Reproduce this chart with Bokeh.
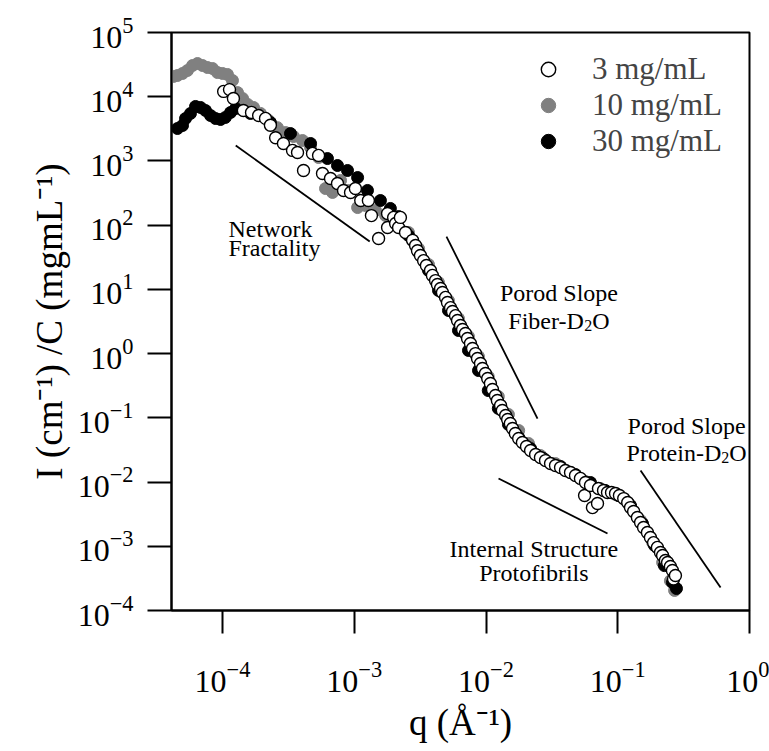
import numpy as np
from bokeh.plotting import figure
from bokeh.models import Range1d, FixedTicker, Label, Legend, LegendItem, LogTickFormatter
from bokeh.embed import file_html
from bokeh.resources import INLINE

# ---------------- data ----------------
# 3 mg/mL (open circles)
q_3 = [1.02e-4, 1.13e-4, 1.21e-4, 1.44e-4, 1.66e-4, 1.88e-4, 2.12e-4, 2.31e-4, 2.53e-4, 2.90e-4,
       3.40e-4, 3.71e-4, 4.12e-4, 4.82e-4, 5.36e-4, 5.74e-4, 6.60e-4, 7.46e-4, 8.29e-4, 9.37e-4,
       1.02e-3, 1.12e-3, 1.28e-3, 1.35e-3, 1.53e-3, 1.79e-3, 1.79e-3, 1.99e-3, 2.06e-3, 2.17e-3,
       2.24e-3, 2.45e-3, 2.77e-3, 2.92e-3, 3.02e-3, 3.18e-3, 3.36e-3, 3.53e-3, 3.79e-3, 3.92e-3,
       4.14e-3, 4.28e-3, 4.52e-3, 4.67e-3, 4.93e-3, 5.10e-3, 5.38e-3, 5.57e-3, 5.87e-3, 6.08e-3,
       6.40e-3, 6.64e-3, 6.98e-3, 7.24e-3, 7.62e-3, 7.90e-3, 8.32e-3, 8.62e-3, 9.08e-3, 9.40e-3,
       9.90e-3, 1.03e-2, 1.08e-2, 1.12e-2, 1.18e-2, 1.22e-2, 1.29e-2, 1.33e-2, 1.41e-2, 1.46e-2,
       1.53e-2, 1.59e-2, 1.67e-2, 1.77e-2, 1.89e-2, 2.03e-2, 2.18e-2, 2.38e-2, 2.59e-2, 2.83e-2,
       3.09e-2, 3.37e-2, 3.68e-2, 4.01e-2, 4.38e-2, 4.78e-2, 5.21e-2, 5.60e-2, 5.69e-2, 6.21e-2,
       6.43e-2, 7.02e-2, 7.14e-2, 7.80e-2, 8.36e-2, 8.97e-2, 9.62e-2, 0.103, 0.111, 0.119,
       0.125, 0.132, 0.141, 0.149, 0.157, 0.168, 0.177, 0.187, 0.200, 0.211,
       0.219, 0.230, 0.239, 0.251, 0.260, 0.265, 0.274]
I_3 = [1.21e4, 1.29e4, 9.4e3, 6.1e3, 5.7e3, 5.1e3, 4.6e3, 3.6e3, 2.3e3, 1.87e3,
       1.46e3, 1.35e3, 710, 1.31e3, 1.22e3, 637, 533, 446, 347, 323,
       372, 242, 242, 141, 62, 92, 152, 132, 106, 92,
       132, 77, 58, 48.2, 40, 33.7, 28, 23.6, 19.7, 16.5,
       13.7, 11.9, 10.3, 8.93, 7.5, 6.25, 5.2, 4.53, 3.9, 3.27,
       2.74, 2.37, 2.06, 1.72, 1.44, 1.20, 1.00, 0.839, 0.70, 0.586,
       0.49, 0.409, 0.342, 0.276, 0.223, 0.186, 0.156, 0.130, 0.109, 0.0942,
       0.0816, 0.0682, 0.057, 0.0477, 0.0413, 0.0357, 0.031, 0.0268, 0.0241, 0.0216,
       0.0194, 0.0181, 0.0168, 0.0151, 0.0141, 0.01265, 0.0114, 0.00617, 0.00984, 0.00883,
       0.0040, 0.00463, 0.00792, 0.00738, 0.00687, 0.00687, 0.00662, 0.00617, 0.00553, 0.0048,
       0.0040, 0.00348, 0.0028, 0.00234, 0.00196, 0.00164, 0.00137, 0.00114, 9.6e-4, 8.0e-4,
       7.2e-4, 6.0e-4, 5.6e-4, 4.84e-4, 4.2e-4, 3.1e-4, 3.5e-4]

# 10 mg/mL (grey filled)
q_10 = [4.25e-5, 4.55e-5, 4.97e-5, 5.42e-5, 5.92e-5, 6.46e-5, 7.05e-5, 7.69e-5, 8.40e-5, 9.16e-5,
        1.00e-4, 1.09e-4, 1.19e-4, 1.30e-4, 1.42e-4, 1.55e-4, 1.72e-4, 1.94e-4, 2.23e-4, 2.61e-4,
        3.01e-4, 3.46e-4, 4.05e-4, 4.66e-4, 5.36e-4, 6.05e-4, 6.84e-4, 7.87e-4, 9.04e-4, 1.06e-3,
        1.22e-3, 1.45e-3, 1.73e-3, 2.06e-3, 2.58e-3, 3.08e-3, 3.66e-3, 4.36e-3, 5.19e-3, 6.18e-3,
        7.36e-3, 8.77e-3, 1.04e-2, 1.24e-2, 1.48e-2, 1.77e-2, 2.10e-2, 2.59e-2, 3.37e-2, 4.38e-2,
        5.69e-2, 7.39e-2, 9.62e-2, 0.121, 0.149, 0.184, 0.219, 0.251, 0.270]
I_10 = [2.07e4, 2.14e4, 2.30e4, 2.56e4, 3.06e4, 3.29e4, 3.06e4, 2.85e4, 2.75e4, 2.38e4,
        2.30e4, 2.22e4, 1.79e4, 1.16e4, 9.4e3, 7.6e3, 6.8e3, 5.5e3, 4.3e3, 3.3e3,
        2.77e3, 2.40e3, 2.08e3, 1.62e3, 1.13e3, 372, 323, 497, 347, 188,
        202, 169, 141, 110, 77, 43, 24.4, 12.8, 6.7, 3.52,
        1.85, 0.90, 0.44, 0.215, 0.113, 0.0635, 0.040, 0.0259, 0.0194, 0.0141,
        0.0102, 0.00792, 0.0064, 0.00463, 0.00252, 0.00114, 5.6e-4, 2.9e-4, 2.05e-4]

# 30 mg/mL (black filled)
q_30 = [4.55e-5, 4.97e-5, 5.24e-5, 5.71e-5, 6.24e-5, 6.81e-5, 7.43e-5, 8.11e-5, 8.85e-5, 9.66e-5,
        1.05e-4, 1.15e-4, 1.26e-4, 1.63e-4, 2.31e-4, 3.28e-4, 4.66e-4, 6.26e-4, 7.46e-4, 8.89e-4,
        1.06e-3, 1.26e-3, 1.58e-3, 1.88e-3, 2.17e-3, 2.58e-3, 3.08e-3, 3.66e-3, 4.36e-3, 5.19e-3,
        6.18e-3, 7.36e-3, 8.77e-3, 1.04e-2, 1.24e-2, 1.48e-2, 1.77e-2, 2.18e-2, 2.73e-2, 3.68e-2,
        4.78e-2, 6.21e-2, 8.07e-2, 0.101, 0.125, 0.154, 0.190, 0.226, 0.260, 0.279]
I_30 = [3.20e3, 3.56e3, 4.58e3, 5.48e3, 7.05e3, 6.80e3, 6.10e3, 5.10e3, 4.58e3, 4.42e3,
        4.75e3, 5.68e3, 6.56e3, 5.48e3, 3.97e3, 2.67e3, 1.87e3, 1.09e3, 849, 710,
        552, 347, 242, 182, 136, 69, 37.5, 19.7, 9.6, 4.69,
        2.29, 1.12, 0.545, 0.266, 0.140, 0.0787, 0.0494, 0.0333, 0.0233, 0.0175,
        0.0131, 0.00984, 0.00738, 0.00617, 0.00431, 0.00226, 0.00103, 5.0e-4, 2.73e-4, 2.2e-4]

series_labels = ["3 mg/mL", "10 mg/mL", "30 mg/mL"]

# guide lines (slope indicators), end points in data units
net_q, net_I = [1.26e-4, 1.31e-3], [1.74e3, 55.7]
fib_q, fib_I = [5.01e-3, 2.46e-2], [66.5, 0.0975]
int_q, int_I = [1.245e-2, 8.36e-2], [0.01135, 1.58e-3]
pro_q, pro_I = [0.149, 0.603], [0.0151, 2.28e-4]

# ticks
x_tick_exps = [-4, -3, -2, -1, 0]
y_tick_exps = [-4, -3, -2, -1, 0, 1, 2, 3, 4, 5]

x_title = "q (Å\u207b\u00b9)"
y_title = "I (cm\u207b\u00b9) /C (mgmL\u207b\u00b9)"

X_LO, X_HI = 4.1e-5, 1.0
Y_LO, Y_HI = 1e-4, 1e5

FONT = "Liberation Serif"

p = figure(width=769, height=751, x_axis_type="log", y_axis_type="log",
           x_range=Range1d(X_LO, X_HI), y_range=Range1d(Y_LO, Y_HI),
           output_backend="svg", toolbar_location=None,
           min_border_left=171, min_border_right=20, min_border_top=32, min_border_bottom=141)
p.background_fill_color = "white"
p.border_fill_color = "white"
p.outline_line_color = "black"
p.outline_line_width = 2
p.grid.visible = False

for ax, exps, tout in ((p.xaxis, x_tick_exps, 23), (p.yaxis, y_tick_exps, 24)):
    ax.ticker = FixedTicker(ticks=[10.0 ** e for e in exps])
    ax.formatter = LogTickFormatter()
    ax.major_label_text_font = FONT
    ax.major_label_text_font_size = "32px"
    ax.major_label_text_color = "black"
    ax.major_tick_out = tout
    ax.major_tick_in = 0
    ax.minor_tick_line_color = None
    ax.major_tick_line_width = 2
    ax.axis_line_width = 2
    ax.axis_line_color = "black"
    ax.major_tick_line_color = "black"
    ax.axis_label_text_font = FONT
    ax.axis_label_text_font_size = "37px"
    ax.axis_label_text_font_style = "normal"
    ax.axis_label_text_color = "black"

p.xaxis.axis_label = x_title
p.yaxis.axis_label = y_title
p.xaxis.major_label_standoff = 28
p.xaxis.axis_label_standoff = 7
p.yaxis.major_label_standoff = 14
p.yaxis.axis_label_standoff = 5

# guide lines
for lq, li in ((net_q, net_I), (fib_q, fib_I), (int_q, int_I), (pro_q, pro_I)):
    p.line(lq, li, line_color="black", line_width=1.8)

# data
r10 = p.scatter(q_10, I_10, size=12, fill_color="#808080", line_color="#808080", line_width=1)
r30 = p.scatter(q_30, I_30, size=12, fill_color="black", line_color="black", line_width=1)
r3 = p.scatter(q_3, I_3, size=12, fill_color="white", line_color="black", line_width=1.4)

legend = Legend(items=[LegendItem(label=series_labels[0], renderers=[r3]),
                       LegendItem(label=series_labels[1], renderers=[r10]),
                       LegendItem(label=series_labels[2], renderers=[r30])],
                location=(359, 451), glyph_width=36, glyph_height=36, spacing=0,
                padding=0, margin=0, label_standoff=26, label_height=20,
                label_text_font=FONT, label_text_font_size="31px",
                border_line_color=None, background_fill_alpha=0)
p.add_layout(legend)

def lab(**kw):
    base = dict(text_font=FONT, text_color="black", text_baseline="alphabetic")
    base.update(kw)
    p.add_layout(Label(**base))

# annotations
AF, SF = 24, 16
lab(x=1.11e-4, y=88.7, text="Network", text_align="left", text_font_size=f"{AF}px")
lab(x=1.11e-4, y=44.9, text="Fractality", text_align="left", text_font_size=f"{AF}px")

lab(x=3.58e-2, y=8.63, text="Porod Slope", text_align="center", text_font_size=f"{AF}px")
wf = 3.166 * AF
tot = wf + 0.5 * SF + 0.722 * AF
lab(x=3.58e-2, y=3.27, x_offset=-tot / 2, text="Fiber-D", text_align="left", text_font_size=f"{AF}px")
lab(x=3.58e-2, y=3.27, x_offset=-tot / 2 + wf, y_offset=-5, text="2", text_align="left", text_font_size=f"{SF}px")
lab(x=3.58e-2, y=3.27, x_offset=-tot / 2 + wf + 0.5 * SF, text="O", text_align="left", text_font_size=f"{AF}px")

lab(x=0.333, y=0.0758, text="Porod Slope", text_align="center", text_font_size=f"{AF}px")
wp = 3.944 * AF
tot = wp + 0.5 * SF + 0.722 * AF
lab(x=0.333, y=0.0288, x_offset=-tot / 2, text="Protein-D", text_align="left", text_font_size=f"{AF}px")
lab(x=0.333, y=0.0288, x_offset=-tot / 2 + wp, y_offset=-5, text="2", text_align="left", text_font_size=f"{SF}px")
lab(x=0.333, y=0.0288, x_offset=-tot / 2 + wp + 0.5 * SF, text="O", text_align="left", text_font_size=f"{AF}px")

lab(x=2.31e-2, y=9.23e-4, text="Internal Structure", text_align="center", text_font_size=f"{AF}px")
lab(x=2.31e-2, y=3.77e-4, text="Protofibrils", text_align="center", text_font_size=f"{AF}px")

open("out.html", "w").write(file_html(p, INLINE))
